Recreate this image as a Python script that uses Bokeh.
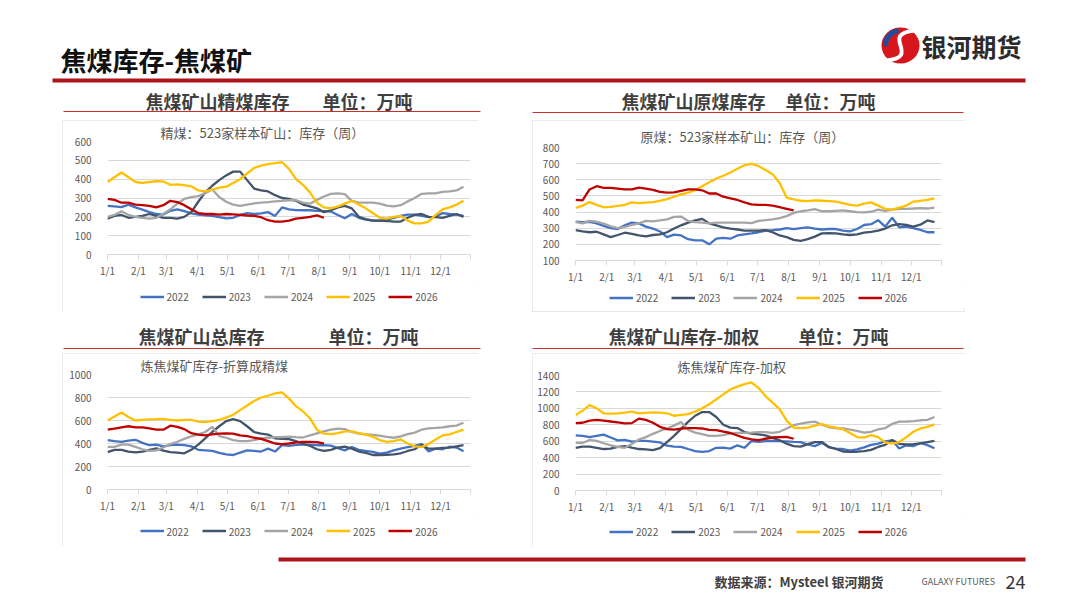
from bokeh.plotting import figure
from bokeh.models import Range1d, FixedTicker, Legend, LegendItem, Spacer
from bokeh.layouts import column, row
from bokeh.core.properties import value
from bokeh.embed import file_html
from bokeh.resources import INLINE

FONT = "Noto Sans CJK SC"
GRID = "#d9d9d9"
LABEL = "#595959"

years = ["2022", "2023", "2024", "2025", "2026"]
colors = ["#4472c4", "#44546a", "#a5a5a5", "#ffc000", "#c00000"]

# weekly readings, x is the day of the year
week_days = list(range(0, 364, 7))
month_days = [0, 31, 59, 90, 120, 151, 181, 212, 243, 273, 304, 334]
month_labels = ["1/1", "2/1", "3/1", "4/1", "5/1", "6/1",
                "7/1", "8/1", "9/1", "10/1", "11/1", "12/1"]

# 精煤库存
clean_2022 = [258, 255, 252, 265, 250, 238, 225, 215, 212, 232, 240, 230, 218,
              212, 208, 205, 198, 192, 195, 210, 220, 215, 218, 225, 205, 250,
              240, 236, 235, 235, 232, 230, 228, 210, 192, 215, 195, 185, 180,
              180, 185, 195, 205, 212, 212, 205, 198, 200, 220, 215, 212, 205]
clean_2023 = [190, 205, 210, 195, 200, 205, 215, 205, 195, 195, 190, 200, 225,
              280, 330, 365, 395, 420, 440, 440, 395, 350, 340, 335, 315, 300,
              295, 285, 265, 255, 245, 225, 235, 250, 258, 245, 200, 188, 180,
              180, 178, 175, 175, 195, 210, 215, 200, 198, 195, 205, 215, 200]
clean_2024 = [200, 210, 230, 210, 200, 195, 190, 195, 215, 240, 270, 295, 305,
              310, 325, 345, 305, 280, 265, 258, 265, 272, 275, 278, 282, 285,
              288, 288, 275, 270, 290, 308, 322, 325, 320, 285, 275, 275, 275,
              270, 260, 255, 262, 282, 300, 322, 325, 325, 332, 335, 340, 360]
clean_2025 = [385, 410, 435, 410, 385, 380, 385, 390, 388, 370, 372, 368, 362,
              340, 335, 345, 355, 360, 380, 400, 430, 460, 472, 480, 485, 490,
              455, 400, 370, 330, 275, 250, 245, 255, 270, 285, 265, 245, 220,
              195, 190, 200, 205, 180, 165, 165, 175, 210, 240, 250, 265, 285]
clean_2026 = [295, 290, 275, 275, 265, 262, 258, 250, 262, 285, 278, 262, 240,
              220, 215, 215, 212, 215, 213, 210, 207, 205, 198, 182, 175, 175,
              180, 190, 195, 200, 208, 195]

# 原煤库存
raw_2022 = [340, 338, 340, 330, 315, 300, 295, 318, 335, 330, 310, 298, 280,
            245, 260, 255, 232, 225, 225, 200, 235, 240, 235, 255, 262, 268,
            275, 285, 288, 292, 300, 295, 300, 305, 298, 292, 295, 295, 285,
            280, 295, 320, 325, 350, 310, 365, 305, 310, 300, 290, 275, 275]
raw_2023 = [288, 280, 275, 278, 262, 245, 258, 272, 265, 255, 250, 258, 262,
            275, 298, 318, 335, 348, 358, 330, 318, 305, 298, 292, 285, 285,
            285, 288, 275, 255, 245, 228, 222, 232, 248, 268, 270, 268, 262,
            258, 262, 272, 278, 285, 298, 318, 325, 320, 310, 322, 348, 338]
raw_2024 = [340, 330, 345, 340, 328, 312, 300, 308, 320, 330, 345, 342, 348,
            355, 370, 372, 345, 338, 335, 330, 335, 335, 335, 335, 335, 332,
            345, 350, 355, 362, 375, 395, 405, 410, 418, 405, 405, 408, 410,
            405, 400, 398, 402, 415, 408, 415, 420, 420, 422, 425, 422, 428]
raw_2025 = [425, 440, 462, 445, 430, 432, 438, 445, 460, 455, 458, 462, 470,
            480, 495, 510, 520, 535, 560, 585, 608, 625, 645, 668, 690, 700,
            685, 660, 635, 580, 490, 478, 470, 468, 472, 470, 468, 465, 455,
            445, 440, 452, 460, 440, 420, 415, 428, 440, 465, 470, 475, 485]
raw_2026 = [475, 472, 540, 560, 550, 550, 545, 540, 540, 552, 545, 538, 525,
            520, 522, 532, 540, 540, 535, 515, 515, 495, 485, 475, 460, 448,
            445, 445, 440, 430, 420, 410]

# 总库存（折算成精煤）
total_2022 = [430, 420, 415, 425, 432, 405, 385, 390, 375, 385, 390, 385, 375,
              345, 340, 335, 318, 305, 300, 320, 340, 335, 330, 355, 330, 385,
              380, 388, 390, 390, 385, 385, 382, 360, 340, 370, 345, 335, 328,
              312, 320, 340, 355, 368, 380, 395, 330, 355, 350, 372, 365, 332]
total_2023 = [325, 345, 345, 330, 322, 330, 345, 358, 338, 325, 320, 315, 345,
              390, 445, 500, 550, 595, 612, 595, 550, 500, 485, 478, 445, 440,
              438, 420, 398, 380, 350, 335, 345, 365, 372, 355, 330, 318, 300,
              300, 302, 305, 315, 335, 350, 390, 355, 355, 362, 365, 375, 385]
total_2024 = [370, 370, 390, 390, 370, 350, 335, 340, 365, 395, 415, 440, 462,
              480, 500, 545, 465, 450, 430, 420, 420, 430, 445, 450, 455, 455,
              460, 455, 452, 470, 488, 505, 520, 530, 525, 500, 485, 480, 475,
              468, 458, 450, 462, 482, 495, 520, 532, 535, 540, 550, 555, 580]
total_2025 = [600, 635, 670, 630, 600, 605, 610, 612, 615, 605, 600, 605, 605,
              590, 585, 595, 605, 625, 650, 690, 730, 770, 800, 815, 835, 845,
              790, 725, 680, 620, 520, 485, 482, 490, 505, 505, 490, 478, 460,
              430, 415, 420, 435, 400, 375, 370, 395, 435, 470, 480, 500, 520]
total_2026 = [520, 530, 540, 550, 540, 540, 532, 520, 520, 555, 545, 525, 490,
              478, 470, 480, 485, 487, 485, 470, 465, 450, 440, 420, 400, 395,
              400, 410, 415, 415, 412, 400]

# 库存-加权
weighted_2022 = [670, 665, 650, 665, 680, 645, 610, 615, 595, 605, 605, 595, 585,
                 545, 535, 532, 505, 480, 470, 480, 520, 522, 510, 550, 520, 600,
                 592, 600, 605, 600, 598, 592, 588, 560, 540, 580, 525, 510, 505,
                 485, 500, 525, 555, 570, 598, 610, 512, 550, 540, 578, 552, 515]
weighted_2023 = [520, 535, 535, 520, 505, 510, 530, 540, 522, 505, 500, 492, 515,
                 590, 665, 750, 835, 910, 955, 955, 895, 800, 765, 760, 712, 692,
                 682, 672, 640, 612, 570, 540, 535, 565, 590, 590, 530, 505, 475,
                 470, 472, 480, 495, 530, 555, 615, 568, 560, 565, 575, 590, 605]
weighted_2024 = [580, 578, 615, 605, 575, 550, 530, 520, 565, 620, 650, 690, 725,
                 755, 790, 835, 740, 705, 685, 665, 665, 675, 695, 700, 702, 705,
                 710, 710, 702, 715, 755, 795, 815, 830, 838, 800, 770, 760, 755,
                 742, 725, 705, 715, 745, 760, 810, 838, 840, 845, 855, 860, 895]
weighted_2025 = [920, 970, 1040, 1000, 940, 935, 940, 948, 960, 940, 945, 950, 948,
                 940, 910, 920, 930, 960, 1000, 1050, 1110, 1170, 1230, 1265, 1295, 1315,
                 1250, 1150, 1070, 990, 850, 765, 760, 765, 790, 810, 780, 765, 745,
                 700, 650, 645, 675, 650, 585, 570, 590, 650, 715, 755, 775, 805]
weighted_2026 = [820, 825, 850, 860, 850, 840, 830, 818, 820, 875, 860, 825, 775,
                 748, 740, 752, 760, 760, 755, 738, 735, 718, 700, 670, 640, 622,
                 612, 630, 645, 650, 652, 630]


def stock_chart(title, title_offset, title_standoff, series, y_lo, y_hi, y_step,
                width, height, borders):
    left, right, top, bottom = borders
    p = figure(width=width, height=height,
               x_range=Range1d(0, 364), y_range=Range1d(y_lo, y_hi),
               output_backend="svg", toolbar_location=None, title=title,
               min_border_left=left, min_border_right=right,
               min_border_top=top, min_border_bottom=bottom)
    p.outline_line_color = None
    p.background_fill_color = "white"
    p.border_fill_color = "white"

    p.title.align = "left"
    p.title.offset = title_offset
    p.title.standoff = title_standoff
    p.title.text_font = FONT
    p.title.text_font_size = "13px"
    p.title.text_font_style = "normal"
    p.title.text_color = LABEL

    y_ticks = list(range(y_lo, y_hi + 1, y_step))
    p.xgrid.visible = False
    p.ygrid.ticker = FixedTicker(ticks=y_ticks)
    p.ygrid.grid_line_color = GRID

    p.yaxis.ticker = FixedTicker(ticks=y_ticks)
    p.yaxis.axis_line_color = None
    p.yaxis.major_tick_line_color = None
    p.yaxis.minor_tick_line_color = None
    p.yaxis.major_label_standoff = 10

    p.xaxis.ticker = FixedTicker(ticks=month_days + [364])
    overrides = {d: lab for d, lab in zip(month_days, month_labels)}
    overrides[364] = ""
    p.xaxis.major_label_overrides = overrides
    p.xaxis.axis_line_color = GRID
    p.xaxis.major_tick_line_color = GRID
    p.xaxis.major_tick_out = 5
    p.xaxis.major_tick_in = 0
    p.xaxis.minor_tick_line_color = None
    p.xaxis.major_label_standoff = 3

    for ax in (p.xaxis, p.yaxis):
        ax.major_label_text_font = FONT
        ax.major_label_text_font_size = "10px"
        ax.major_label_text_color = LABEL

    for yr, col, vals in zip(years, colors, series):
        p.line(week_days[:len(vals)], vals, line_color=col, line_width=2.3)
    return p


def legend_strip(width, height, series):
    # the series key under each chart; the same lines are drawn here but the
    # y range is kept below the data so that only Bokeh's Legend shows
    p = figure(width=width, height=height, x_range=Range1d(0, 364), y_range=Range1d(-2, -1),
               output_backend="svg", toolbar_location=None, min_border=0)
    p.axis.visible = False
    p.grid.visible = False
    p.outline_line_color = None
    p.border_fill_color = "white"
    p.background_fill_color = "white"
    items = []
    for yr, col, vals in zip(years, colors, series):
        r = p.line(week_days[:len(vals)], vals, line_color=col, line_width=2.5)
        items.append(LegendItem(label=yr, renderers=[r]))
    legend = Legend(items=items, orientation="horizontal", location="center",
                    glyph_width=24, glyph_height=10, label_standoff=3, spacing=13,
                    label_text_font=FONT, label_text_font_size="10px",
                    label_text_color=LABEL, border_line_color=None,
                    background_fill_alpha=0, margin=0, padding=2)
    p.add_layout(legend)
    return p


def panel(chart, series, width, legend_height, spacer_height=0):
    parts = [chart, legend_strip(width, legend_height, series)]
    if spacer_height:
        parts.append(Spacer(width=width, height=spacer_height))
    box = column(*parts)
    box.styles = {"outline": "1px solid #e6e6e6", "outline-offset": "-1px"}
    return box


def deco_fig(width, height, x0, y0):
    # page decorations in page pixel coordinates, y pointing down
    p = figure(width=width, height=height,
               x_range=Range1d(x0, x0 + width), y_range=Range1d(y0 + height, y0),
               output_backend="svg", toolbar_location=None, min_border=0)
    p.axis.visible = False
    p.grid.visible = False
    p.outline_line_color = None
    p.border_fill_color = "white"
    p.background_fill_color = "white"
    return p


def heading(p, x_name, x_unit, y, line_x0, line_x1, line_y, name, unit="单位：万吨"):
    p.text(x=[x_name, x_unit], y=[y, y], text=[name, unit],
           text_font=value(FONT), text_font_size="18px", text_font_style="bold",
           text_color="#3f3f3f", text_baseline="middle", text_align="left")
    p.line(x=[line_x0, line_x1], y=[line_y, line_y], line_color="#c9302c", line_width=1.2)


header = deco_fig(1072, 120, 0, 0)
header.text(x=[60], y=[59], text=["焦煤库存-焦煤矿"], text_font=value(FONT),
            text_font_size="26px", text_font_style="bold", text_color="#111111",
            text_baseline="middle", text_align="left")
header.line(x=[52, 1025], y=[80, 80], line_color="#ad151b", line_width=4)
# logo
header.ellipse(x=[900], y=[45], width=[38], height=[36], fill_color="#d7151d", line_color=None)
header.arc(x=[900], y=[45], radius=15, start_angle=1.7, end_angle=3.2,
           line_color="#1f4e9e", line_width=5)
header.bezier(x0=[914], y0=[30], x1=[886], y1=[60], cx0=[878], cy0=[34],
              cx1=[922], cy1=[56], line_color="white", line_width=4)
header.text(x=[921], y=[45], text=["银河期货"], text_font=value(FONT),
            text_font_size="25px", text_font_style="bold", text_color="#2b2b2b",
            text_baseline="middle", text_align="left")
heading(header, 145, 322, 100, 63, 480, 111, "焦煤矿山精煤库存")
heading(header, 621, 785, 100, 532, 963, 112, "焦煤矿山原煤库存")

middle = deco_fig(1072, 41, 0, 312)
heading(middle, 138, 328, 335, 63, 480, 348, "焦煤矿山总库存")
heading(middle, 608, 798, 335, 532, 963, 348, "焦煤矿山库存-加权")

footer = deco_fig(1072, 54, 0, 546)
footer.line(x=[278, 1025], y=[559, 559], line_color="#ad151b", line_width=4)
footer.text(x=[714], y=[581], text=["数据来源：Mysteel 银河期货"], text_font=value(FONT),
            text_font_size="13px", text_font_style="bold", text_color="#404040",
            text_baseline="middle", text_align="left")
footer.text(x=[921], y=[581], text=["GALAXY FUTURES"], text_font=value(FONT),
            text_font_size="9px", text_color="#595959",
            text_baseline="middle", text_align="left")
footer.text(x=[1005], y=[581], text=["24"], text_font=value(FONT),
            text_font_size="18px", text_color="#333333",
            text_baseline="middle", text_align="left")

clean = [clean_2022, clean_2023, clean_2024, clean_2025, clean_2026]
raw = [raw_2022, raw_2023, raw_2024, raw_2025, raw_2026]
total = [total_2022, total_2023, total_2024, total_2025, total_2026]
weighted = [weighted_2022, weighted_2023, weighted_2024, weighted_2025, weighted_2026]

ch1 = stock_chart("精煤：523家样本矿山：库存（周）", 53, 0, clean,
                  0, 600, 100, 416, 160, (45, 8, 19, 24))
ch2 = stock_chart("原煤：523家样本矿山：库存（周）", 65, 4, raw,
                  100, 800, 100, 433, 166, (43, 24, 27, 22))
ch3 = stock_chart("炼焦煤矿库存-折算成精煤", 33, 0, total,
                  0, 1000, 200, 416, 162, (45, 8, 21, 24))
ch4 = stock_chart("炼焦煤矿库存-加权", 102, 0, weighted,
                  0, 1400, 200, 433, 163, (43, 24, 22, 24))

row1 = row(Spacer(width=62, height=192), panel(ch1, clean, 416, 32),
           Spacer(width=54, height=192), panel(ch2, raw, 433, 22, 4),
           Spacer(width=107, height=192))
row2 = row(Spacer(width=62, height=193), panel(ch3, total, 416, 31),
           Spacer(width=54, height=193), panel(ch4, weighted, 433, 30),
           Spacer(width=107, height=193))

page = column(header, row1, middle, row2, footer)

open("out.html", "w").write(file_html(page, INLINE))
